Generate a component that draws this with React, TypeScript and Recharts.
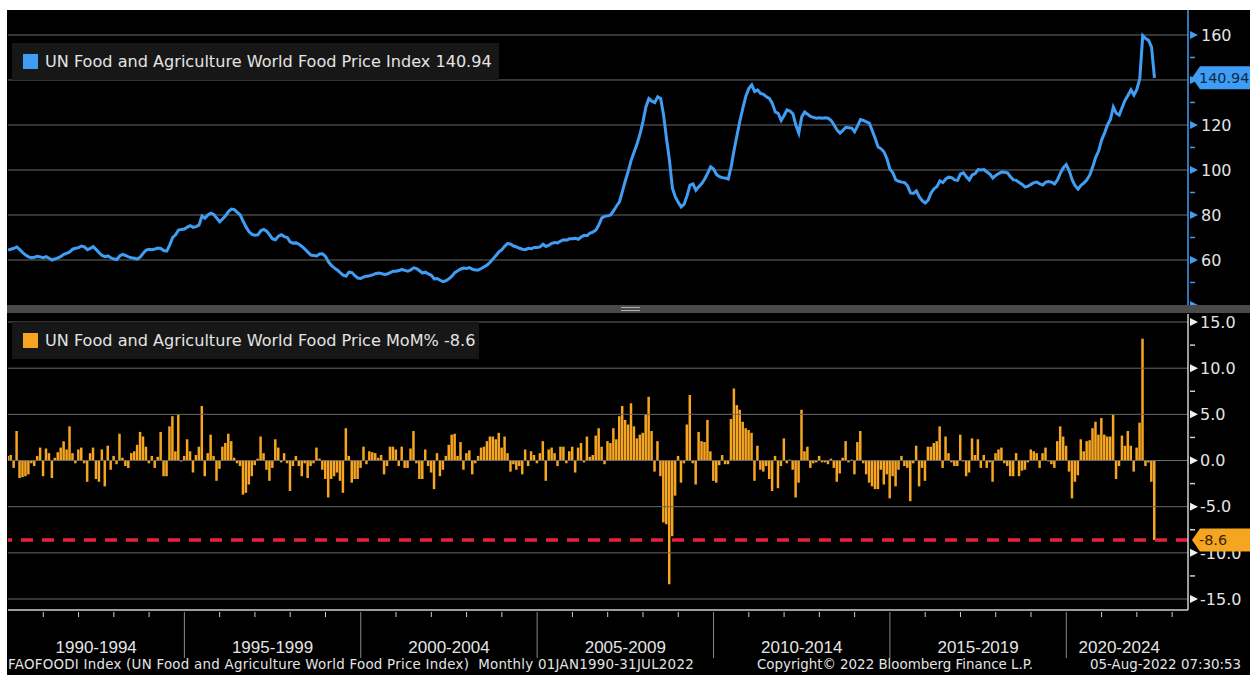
import React from 'react';
import {
  LineChart,
  Line,
  ComposedChart,
  Bar,
  XAxis,
  YAxis,
  ReferenceLine,
} from 'recharts';

// FAO food price index, monthly, Jan 1990 - Jul 2022 (one row per year)
const index1990 = [64.4, 64.8, 65.2, 65.8, 64.6, 63.3, 62.2, 61.4, 61.0, 61.2, 61.6, 61.4];
const index1991 = [61.0, 61.5, 60.8, 60.0, 60.5, 60.9, 61.6, 62.5, 63.0, 63.6, 64.8, 65.2];
const index1992 = [65.5, 66.2, 65.8, 64.6, 65.2, 65.9, 64.6, 63.2, 62.0, 61.5, 61.8, 61.0];
const index1993 = [60.4, 60.2, 61.8, 62.5, 62.0, 61.4, 61.0, 60.8, 60.4, 61.4, 63.0, 64.4];
const index1994 = [64.8, 64.6, 64.9, 65.3, 65.1, 64.2, 64.0, 66.6, 70.0, 71.2, 73.3, 73.6];
const index1995 = [73.8, 74.6, 75.2, 74.5, 74.8, 75.6, 79.6, 78.6, 80.0, 80.8, 80.2, 78.6];
const index1996 = [77.0, 78.2, 79.6, 81.5, 82.6, 82.4, 81.2, 80.0, 77.2, 74.6, 72.5, 71.4];
const index1997 = [71.0, 71.2, 73.0, 73.6, 72.8, 71.2, 69.4, 69.0, 70.6, 71.2, 70.4, 70.0];
const index1998 = [68.0, 67.5, 67.6, 67.0, 66.0, 64.8, 63.5, 62.2, 62.0, 61.8, 62.7, 62.8];
const index1999 = [61.6, 59.2, 57.6, 56.5, 55.6, 54.4, 53.3, 52.8, 54.6, 54.4, 53.0, 52.0];
const index2000 = [51.8, 52.5, 52.8, 53.0, 53.4, 53.9, 54.2, 54.0, 53.6, 53.8, 54.4, 55.0];
const index2001 = [55.0, 55.3, 55.8, 55.4, 55.0, 55.6, 56.5, 56.2, 55.2, 54.2, 54.6, 53.8];
const index2002 = [53.2, 51.6, 51.8, 51.0, 50.4, 50.8, 51.6, 52.8, 54.4, 55.2, 56.0, 56.4];
const index2003 = [56.2, 56.6, 55.9, 55.6, 55.6, 56.2, 57.0, 57.8, 59.0, 60.5, 62.0, 63.6];
const index2004 = [64.6, 66.2, 67.4, 67.0, 66.2, 65.8, 65.2, 64.8, 64.6, 65.2, 65.0, 65.6];
const index2005 = [65.6, 65.8, 67.0, 66.0, 66.6, 67.4, 67.8, 67.6, 68.4, 69.0, 68.8, 69.4];
const index2006 = [69.4, 69.6, 69.2, 70.2, 71.0, 70.8, 72.0, 72.4, 73.3, 75.6, 78.7, 79.4];
const index2007 = [79.6, 80.0, 81.8, 84.0, 85.8, 90.5, 95.2, 99.5, 104.4, 108.0, 111.6, 116.0];
const index2008 = [121.5, 128.0, 131.7, 130.6, 130.0, 132.5, 131.8, 124.5, 114.0, 104.4, 92.0, 88.0];
const index2009 = [85.6, 83.6, 84.8, 88.6, 93.3, 93.8, 91.0, 92.6, 94.0, 96.0, 98.6, 101.4];
const index2010 = [100.4, 98.0, 97.0, 96.6, 96.4, 96.0, 101.5, 108.9, 115.5, 122.0, 127.6, 132.8];
const index2011 = [136.2, 137.8, 134.8, 135.6, 134.0, 133.6, 132.5, 131.8, 129.6, 125.8, 125.2, 122.0];
const index2012 = [124.2, 126.7, 126.2, 125.0, 120.0, 116.4, 123.6, 125.8, 124.8, 123.8, 123.4, 123.0];
const index2013 = [123.2, 123.0, 123.2, 123.0, 122.0, 120.0, 117.8, 116.4, 117.6, 119.0, 118.8, 118.6];
const index2014 = [117.0, 119.6, 122.4, 122.0, 121.4, 120.8, 117.4, 114.0, 110.2, 109.4, 108.0, 105.0];
const index2015 = [100.4, 98.8, 95.6, 95.0, 94.6, 94.4, 93.0, 89.8, 89.6, 90.7, 88.0, 86.4];
const index2016 = [85.3, 86.6, 89.8, 91.6, 92.6, 95.2, 94.4, 96.0, 96.8, 96.6, 95.6, 95.4];
const index2017 = [98.2, 98.7, 97.0, 95.6, 97.8, 98.4, 100.2, 100.0, 100.2, 99.1, 98.2, 96.4];
const index2018 = [97.6, 98.4, 99.1, 99.0, 98.7, 97.0, 95.6, 95.4, 94.4, 93.6, 92.4, 92.8];
const index2019 = [93.6, 94.4, 94.6, 93.8, 93.3, 94.6, 94.9, 94.6, 93.8, 95.6, 98.6, 101.0];
const index2020 = [102.4, 99.6, 95.6, 93.0, 91.5, 93.2, 94.2, 95.6, 97.8, 101.4, 105.6, 108.4];
const index2021 = [113.3, 116.4, 120.0, 122.4, 128.0, 125.2, 124.4, 127.8, 131.0, 133.2, 135.6, 133.3];
const index2022 = [135.8, 140.6, 159.7, 158.4, 157.6, 154.6, 140.94];

// month-over-month change, %
const mom1990 = [0.5, 0.6, -0.8, 3.2, -1.9, -1.8, -1.7, -1.5, -0.3, -0.6, 0.5, 1.4];
const mom1991 = [-1.7, 1.3, 0.8, -1.9, 0.3, 0.9, 1.4, 2.1, 1.2, 3.7, 0.8, -0.3];
const mom1992 = [1.2, 1.4, -0.3, -2.3, 0.8, 1.4, -2.0, -2.3, 1.2, -2.8, 1.6, -1.0];
const mom1993 = [0.5, -0.4, 2.9, 0.3, -0.6, -0.8, 0.8, 1.0, 1.7, 3.1, 2.6, 1.5];
const mom1994 = [-0.3, 0.5, -0.8, 0.4, 3.1, -1.7, -1.7, 3.7, 4.8, 1.0, 5.0, -0.1];
const mom1995 = [0.5, 2.3, 1.0, -1.3, 0.6, 1.5, 5.9, -1.7, 0.8, 2.8, 0.5, -2.2];
const mom1996 = [-0.9, 1.5, 1.9, 2.9, 2.1, 0.3, -0.3, -0.6, -3.7, -3.5, -2.6, -1.7];
const mom1997 = [-0.5, 0.2, 2.6, 0.8, -1.0, -2.2, -0.8, 2.3, 1.4, -0.2, 0.8, -0.3];
const mom1998 = [-3.3, -0.6, 0.5, -0.6, -1.7, -0.3, -1.9, -0.6, -0.3, 1.4, 0.2, -1.0];
const mom1999 = [-2.0, -4.0, -2.0, -1.7, -1.3, -2.2, -3.5, 3.5, 0.5, -2.4, -2.0, -2.0];
const mom2000 = [-0.8, 1.5, -0.4, 1.0, 0.9, 0.8, 0.3, 0.6, -1.5, -0.6, 1.5, 1.5];
const mom2001 = [1.2, -0.6, 1.5, -0.8, -0.8, 1.3, 3.2, -0.3, -2.0, -2.0, 1.2, -0.6];
const mom2002 = [-1.3, -3.1, 0.8, -1.7, -1.0, 0.5, 1.7, 2.8, 2.9, 0.5, 2.0, -1.0];
const mom2003 = [0.8, 1.1, -1.5, -0.3, 0.5, 1.4, 1.5, 2.1, 2.6, 2.6, 2.3, 3.0];
const mom2004 = [1.4, 2.6, 0.8, -1.2, -0.4, -1.0, -0.6, -1.5, 1.2, -0.6, 1.0, 0.6];
const mom2005 = [-0.3, 0.8, 2.1, -2.2, 1.2, 1.4, 0.8, -0.6, 1.5, 1.5, -0.3, 1.0];
const mom2006 = [1.5, -1.3, 1.4, 1.9, -0.2, 2.6, 0.4, 0.6, 2.7, 3.5, 1.5, -0.4];
const mom2007 = [2.1, 1.9, 3.5, 2.3, 4.8, 5.9, 4.4, 3.9, 6.2, 3.7, 2.4, 2.8];
const mom2008 = [3.0, 5.0, 6.9, 3.2, -1.2, 2.1, -1.7, -6.7, -6.9, -13.4, -8.2, -3.8];
const mom2009 = [0.5, -2.4, -0.3, 3.9, 7.1, -0.3, -2.6, 3.1, 2.1, 2.0, 4.4, 1.0];
const mom2010 = [-2.2, -2.4, -0.5, 0.6, -0.4, -0.4, 4.5, 7.8, 6.0, 5.5, 4.2, 3.5];
const mom2011 = [3.3, 3.0, -2.2, 1.6, -1.0, -1.2, -0.6, -2.0, -3.3, 0.5, -3.0, -0.6];
const mom2012 = [2.4, -0.3, 0.1, -1.0, -4.0, -2.4, 5.5, 1.0, 1.5, -0.8, -0.3, -0.2];
const mom2013 = [0.5, -0.2, -0.2, -0.4, 0.2, -0.8, -2.3, -1.4, 0.3, 2.1, -0.2, 0.1];
const mom2014 = [-1.5, 2.0, 3.2, -0.3, -1.5, -2.4, -2.8, -3.1, -3.1, -1.0, -2.6, -1.5];
const mom2015 = [-4.1, -1.7, -2.8, -1.0, 0.5, -0.6, -0.8, -4.4, -0.3, 1.6, -2.8, -0.8];
const mom2016 = [-2.2, 1.5, 1.5, 1.9, 2.1, 3.7, -0.8, 2.6, 0.8, -0.2, -0.6, -0.6];
const mom2017 = [2.8, -0.1, -1.7, -1.3, 2.4, 0.6, 2.3, -0.8, 0.6, -0.8, -0.2, -2.3];
const mom2018 = [0.8, 1.2, 1.4, -0.3, -0.6, -1.7, -1.7, 0.8, -1.7, -1.1, -1.0, -0.2];
const mom2019 = [1.2, 1.0, 0.8, -0.8, 0.8, 1.4, -0.1, -0.4, -0.8, 2.1, 3.7, 2.6];
const mom2020 = [1.6, -1.2, -4.1, -2.3, -1.6, 2.3, 1.0, 2.1, 2.2, 3.5, 4.2, 2.8];
const mom2021 = [4.6, 2.8, 2.6, 2.6, 5.0, -2.0, -0.6, 2.7, 1.6, 3.2, 1.6, -1.2];
const mom2022 = [1.4, 4.1, 13.2, -0.6, -0.2, -2.3, -8.6];

const indexRows = [
  index1990, index1991, index1992, index1993, index1994, index1995, index1996, index1997,
  index1998, index1999, index2000, index2001, index2002, index2003, index2004, index2005,
  index2006, index2007, index2008, index2009, index2010, index2011, index2012, index2013,
  index2014, index2015, index2016, index2017, index2018, index2019, index2020, index2021,
  index2022,
];
const momRows = [
  mom1990, mom1991, mom1992, mom1993, mom1994, mom1995, mom1996, mom1997,
  mom1998, mom1999, mom2000, mom2001, mom2002, mom2003, mom2004, mom2005,
  mom2006, mom2007, mom2008, mom2009, mom2010, mom2011, mom2012, mom2013,
  mom2014, mom2015, mom2016, mom2017, mom2018, mom2019, mom2020, mom2021,
  mom2022,
];

const lastIndex = 140.94;
const lastMom = -8.6;

const periodLabels = ['1990-1994', '1995-1999', '2000-2004', '2005-2009', '2010-2014', '2015-2019', '2020-2024'];
// month offsets (from Jan 1990) where each period label is centred
const periodCenters = [30, 90, 150, 210, 270, 330, 378];
const yearTicks = Array.from({ length: 34 }, (_, i) => i * 12);
const topTicks = [40, 50, 60, 70, 80, 90, 100, 110, 120, 130, 140, 150, 160];
const topGrid = [60, 80, 100, 120, 140, 160];
const bottomTicks = [-15, -12.5, -10, -7.5, -5, -2.5, 0, 2.5, 5, 7.5, 10, 12.5, 15];
const bottomGrid = [-15, -10, -5, 0, 5, 10, 15];

const data = indexRows.flat().map((v, i) => ({ t: i, index: v, mom: momRows.flat()[i] }));

const BLUE = '#3f9ef4';
const ORANGE = '#f6a520';
const GRID = '#6a6a6a';
const TEXT = '#e4e4e4';
const FONT = '"DejaVu Sans", Verdana, sans-serif';
const ARIAL = '"Liberation Sans", Arial, sans-serif';
const X_DOMAIN: [number, number] = [0, 401.4];

// value badge drawn at the axis, pointing left at the last value
const badge = (x: number, y: number, text: string, bg: string, color: string) => (
  <g>
    <path
      d={`M${x + 2},${y} L${x + 10},${y - 11.5} L${x + 64},${y - 11.5} L${x + 64},${y + 11.5} L${x + 10},${y + 11.5} Z`}
      fill={bg}
    />
    <text x={x + 9} y={y} dy="0.36em" fill={color} fontSize={14.4} fontFamily={FONT}>
      {text}
    </text>
  </g>
);

const TopTick = (props: any) => {
  const { x, y, payload } = props;
  const v = payload.value;
  if (v === lastIndex) return badge(x, y, lastIndex.toFixed(2), BLUE, '#0c2746');
  if (v % 20 === 0) {
    return (
      <g>
        <path d={`M${x},${y - 4} L${x + 8},${y} L${x},${y + 4} Z`} fill={BLUE} />
        {v >= 60 && v !== 140 && (
          <text x={x + 11} y={y} dy="0.36em" fill={TEXT} fontSize={16} fontFamily={FONT}>
            {v}
          </text>
        )}
      </g>
    );
  }
  return <line x1={x} x2={x + 5} y1={y} y2={y} stroke={BLUE} strokeWidth={1.5} />;
};

const BottomTick = (props: any) => {
  const { x, y, payload } = props;
  const v = payload.value;
  if (v === lastMom) return badge(x, y, lastMom.toFixed(1), ORANGE, '#3a2400');
  if (v % 5 === 0) {
    return (
      <g>
        <path d={`M${x},${y - 4} L${x + 8},${y} L${x},${y + 4} Z`} fill="#f0f0f0" />
        <text x={x + 10} y={y} dy="0.36em" fill={TEXT} fontSize={16} fontFamily={FONT}>
          {v.toFixed(1)}
        </text>
      </g>
    );
  }
  return <line x1={x} x2={x + 5} y1={y} y2={y} stroke="#d0d0d0" strokeWidth={1.5} />;
};

const XTick = (props: any) => {
  const { x, y, payload } = props;
  const v = payload.value;
  const li = periodCenters.indexOf(v);
  if (li >= 0) {
    return (
      <text x={x} y={y + 41} textAnchor="middle" fill={TEXT} fontSize={17} fontFamily={ARIAL}>
        {periodLabels[li]}
      </text>
    );
  }
  if (v === 0) return <g />;
  if (v % 60 === 0) {
    return <line x1={x} x2={x} y1={y} y2={y + 46} stroke="#8a8a8a" strokeWidth={1} />;
  }
  return <line x1={x} x2={x} y1={y} y2={y + 5} stroke="#d0d0d0" strokeWidth={1} />;
};

const LegendBox = ({ top, width, color, label }: any) => (
  <div
    style={{
      position: 'absolute',
      left: 12,
      top,
      width,
      height: 37,
      background: '#171717',
      display: 'flex',
      alignItems: 'center',
      fontFamily: FONT,
      fontSize: 16.1,
      color: TEXT,
      whiteSpace: 'nowrap',
    }}
  >
    <span style={{ display: 'inline-block', width: 15, height: 15, background: color, marginLeft: 11, marginRight: 7 }} />
    {label}
  </div>
);

const footStyle: React.CSSProperties = {
  position: 'absolute',
  top: 657,
  fontFamily: FONT,
  fontSize: 13.4,
  color: TEXT,
  whiteSpace: 'nowrap',
};

export default function App() {
  return (
    <div style={{ position: 'relative', width: 1250, height: 675, background: '#fff', overflow: 'hidden' }}>
      <style>{'body{margin:0;}'}</style>
      <div style={{ position: 'absolute', left: 7, top: 10, width: 1243, height: 665, background: '#000' }} />

      <div style={{ position: 'absolute', left: 0, top: 10 }}>
        <LineChart width={1250} height={295} data={data} margin={{ top: 0, right: 0, bottom: 0, left: 8 }}>
          <XAxis dataKey="t" type="number" domain={X_DOMAIN} allowDataOverflow hide />
          <YAxis
            orientation="right"
            width={62}
            domain={[40, 171.1]}
            allowDataOverflow
            ticks={[...topTicks, lastIndex]}
            interval={0}
            tick={<TopTick />}
            tickLine={false}
            tickSize={0}
            axisLine={{ stroke: BLUE, strokeWidth: 1.5 }}
          />
          {topGrid.map((g) => (
            <ReferenceLine key={g} y={g} stroke={GRID} strokeWidth={1} />
          ))}
          <Line
            type="linear"
            dataKey="index"
            stroke={BLUE}
            strokeWidth={3}
            dot={false}
            isAnimationActive={false}
          />
        </LineChart>
      </div>

      <LegendBox top={43} width={487} color={BLUE} label={`UN Food and Agriculture World Food Price Index ${lastIndex}`} />

      {/* panel divider */}
      <div style={{ position: 'absolute', left: 7, top: 305, width: 1243, height: 8, background: '#4a4a4a' }} />
      <div style={{ position: 'absolute', left: 621, top: 307, width: 19, height: 1, background: '#b0b0b0' }} />
      <div style={{ position: 'absolute', left: 621, top: 310, width: 19, height: 1, background: '#b0b0b0' }} />

      <div style={{ position: 'absolute', left: 0, top: 313 }}>
        <ComposedChart width={1250} height={345} data={data} margin={{ top: 1, right: 0, bottom: 0, left: 8 }}>
          <XAxis
            dataKey="t"
            type="number"
            domain={X_DOMAIN}
            allowDataOverflow
            ticks={[...yearTicks, ...periodCenters]}
            interval={0}
            tick={<XTick />}
            tickLine={false}
            tickSize={0}
            height={48}
            axisLine={{ stroke: '#d0d0d0', strokeWidth: 1.5 }}
          />
          <YAxis
            orientation="right"
            width={62}
            domain={[-16.19, 15.87]}
            allowDataOverflow
            ticks={[...bottomTicks, lastMom]}
            interval={0}
            tick={<BottomTick />}
            tickLine={false}
            tickSize={0}
            axisLine={{ stroke: '#d0d0d0', strokeWidth: 1.5 }}
          />
          {bottomGrid.map((g) => (
            <ReferenceLine key={g} y={g} stroke={GRID} strokeWidth={1} />
          ))}
          <Bar dataKey="mom" fill={ORANGE} barSize={2.5} isAnimationActive={false} />
          <ReferenceLine y={lastMom} stroke="#e8223a" strokeWidth={3.5} strokeDasharray="12 9" />
        </ComposedChart>
      </div>

      <LegendBox top={322} width={467} color={ORANGE} label={`UN Food and Agriculture World Food Price MoM% ${lastMom}`} />

      <div style={{ ...footStyle, left: 8, letterSpacing: 0.25 }}>
        FAOFOODI Index (UN Food and Agriculture World Food Price Index)&nbsp; Monthly 01JAN1990-31JUL2022
      </div>
      <div style={{ ...footStyle, left: 757 }}>Copyright© 2022 Bloomberg Finance L.P.</div>
      <div style={{ ...footStyle, left: 1090 }}>05-Aug-2022 07:30:53</div>
    </div>
  );
}
